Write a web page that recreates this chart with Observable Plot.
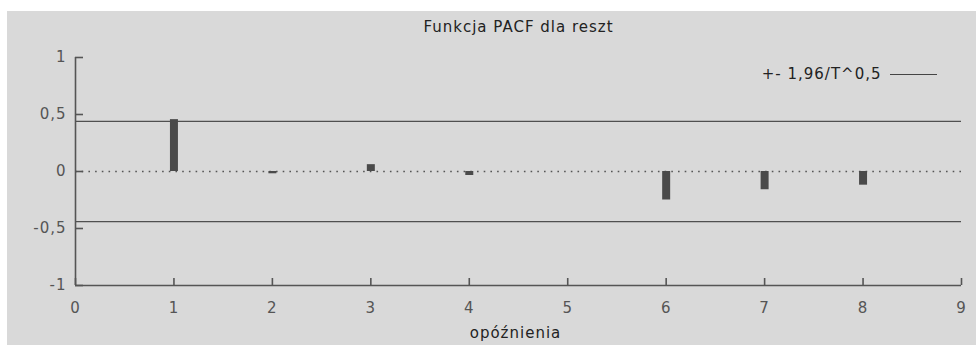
<!DOCTYPE html>
<html>
<head>
<meta charset="utf-8">
<script src="https://cdn.jsdelivr.net/npm/d3@7"></script>
<script src="https://cdn.jsdelivr.net/npm/@observablehq/plot@0.6"></script>
<style>
  html, body { margin: 0; padding: 0; background: #ffffff; }
  #wrap { position: relative; width: 976px; height: 345px; overflow: hidden; }
  #chart { position: absolute; left: 7px; top: 11px; }
  #chart svg { background: #d9d9d9; display: block; letter-spacing: 1px; }
  #legline { position: absolute; left: 890px; top: 74px; width: 47px; height: 0; border-top: 1px solid #444; }
</style>
</head>
<body>
<div id="wrap">
  <div id="chart"></div>
  <div id="legline"></div>
</div>
<script>
const title = "Funkcja PACF dla reszt";
const xLabel = "opóźnienia";
const legendLabel = "+- 1,96/T^0,5";
const lags = [1, 2, 3, 4, 5, 6, 7, 8];
const pacf = [0.455, -0.02, 0.06, -0.035, 0, -0.25, -0.16, -0.12];
const critical = 0.44;
const xTicks = [0, 1, 2, 3, 4, 5, 6, 7, 8, 9];
const yTicks = [-1, -0.5, 0, 0.5, 1];
const yTickLabels = ["-1", "-0,5", "0", "0,5", "1"];

const W = 969, H = 334;
const mL = 68, mR = 15, mT = 46, mB = 60;
const plotW = W - mL - mR, plotH = H - mT - mB;
const data = lags.map((lag, i) => ({lag, v: pacf[i]}));
const font = "DejaVu Sans, sans-serif";

const chart = Plot.plot({
  width: W,
  height: H,
  marginLeft: mL,
  marginRight: mR,
  marginTop: mT,
  marginBottom: mB,
  style: {background: "#d9d9d9", fontFamily: font, fontSize: "15px", color: "#555"},
  x: {domain: [0, 9], ticks: xTicks},
  y: {domain: [-1, 1], ticks: yTicks},
  marks: [
    Plot.axisX(xTicks, {tickSize: 0, tickPadding: 17, label: null, fill: "#555", fontSize: 15}),
    Plot.axisY(yTicks, {tickSize: 0, tickPadding: 9, label: null, fill: "#555", fontSize: 15,
      tickFormat: (d) => yTickLabels[yTicks.indexOf(d)]}),
    Plot.ruleY([0], {stroke: "#555", strokeWidth: 1.4, strokeDasharray: "1.6,5.1"}),
    Plot.ruleY([critical, -critical], {stroke: "#505050", strokeWidth: 1.3}),
    Plot.ruleX(data, {x: "lag", y1: 0, y2: "v", stroke: "#4a4a4a", strokeWidth: 8}),
    Plot.ruleX([0], {stroke: "#555", strokeWidth: 1.6}),
    Plot.ruleY([-1], {stroke: "#555", strokeWidth: 1.6}),
    Plot.ruleY(yTicks, {stroke: "#555", strokeWidth: 1.6, insetRight: plotW - 8}),
    Plot.ruleX(xTicks, {stroke: "#555", strokeWidth: 1.6, insetTop: plotH - 7}),
    Plot.text([title], {frameAnchor: "top", lineAnchor: "middle", dy: -30, fill: "#222", fontSize: 15}),
    Plot.text([legendLabel], {frameAnchor: "top-right", lineAnchor: "middle", textAnchor: "end", dx: -80, dy: 17, fill: "#222", fontSize: 15}),
    Plot.text([xLabel], {frameAnchor: "bottom", lineAnchor: "middle", dx: -3, dy: 48, fill: "#222", fontSize: 15})
  ]
});
document.getElementById("chart").appendChild(chart);
</script>
</body>
</html>
